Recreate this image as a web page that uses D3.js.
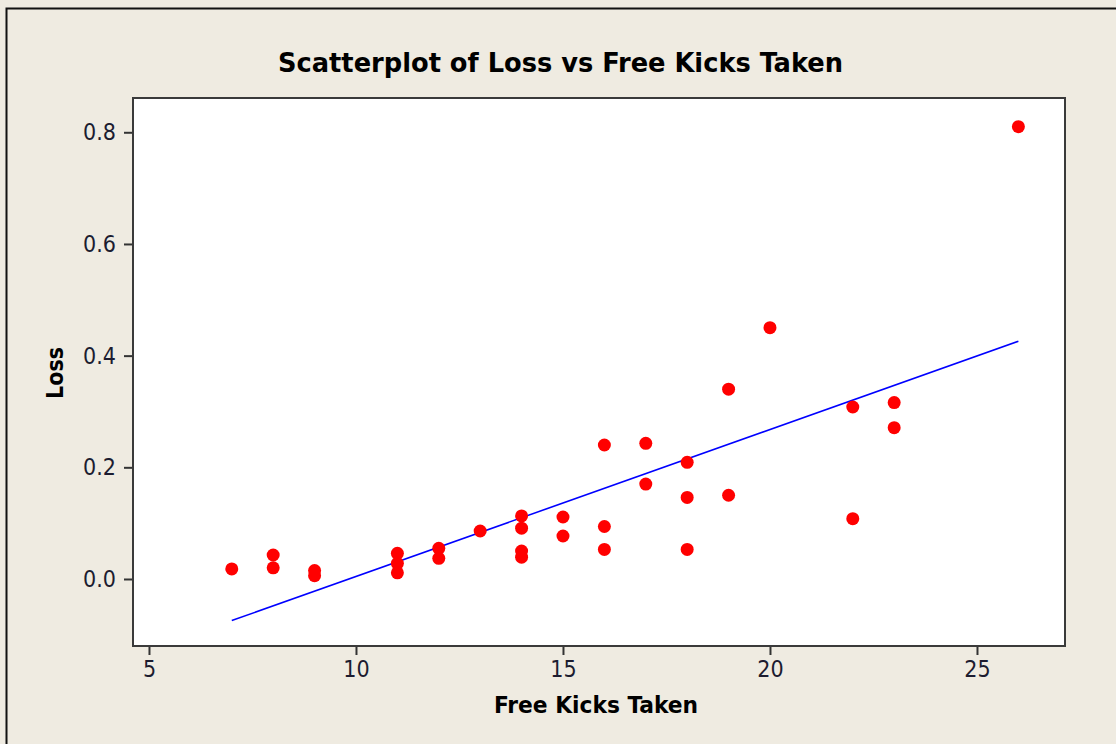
<!DOCTYPE html>
<html>
<head>
<meta charset="utf-8">
<script src="https://cdn.jsdelivr.net/npm/d3@7"></script>
<style>
  html, body { margin: 0; padding: 0; background: #efebe1; overflow: hidden; }
  svg { display: block; }
</style>
</head>
<body>
<div id="chart"></div>
<script>
// Data
const freeKicks = [7, 8, 8, 9, 9, 11, 11, 11, 12, 12, 13, 14, 14, 14, 14, 15, 15,
  16, 16, 16, 17, 17, 18, 18, 18, 19, 19, 20, 22, 22, 23, 23, 26];
const loss = [0.018, 0.043, 0.020, 0.015, 0.006, 0.046, 0.028, 0.011, 0.055, 0.037,
  0.086, 0.113, 0.091, 0.050, 0.039, 0.111, 0.077, 0.240, 0.094, 0.053, 0.243, 0.170,
  0.209, 0.146, 0.053, 0.340, 0.150, 0.450, 0.308, 0.108, 0.316, 0.271, 0.810];
const xTicks = [5, 10, 15, 20, 25];
const yTicks = [0.0, 0.2, 0.4, 0.6, 0.8];

const chartTitle = "Scatterplot of Loss vs Free Kicks Taken";
const xLabel = "Free Kicks Taken";
const yLabel = "Loss";

function createScatter(containerId) {
  const config = {
    width: 1116,
    height: 744,
    plot: { left: 133, top: 98, right: 1065, bottom: 646 },
    xDomain: [4.614, 27.126],
    yDomain: [-0.12, 0.8614],
    pointRadius: 6.5,
    font: "'DejaVu Sans Condensed', 'DejaVu Sans', sans-serif"
  };

  const data = freeKicks.map((x, i) => ({ x: x, y: loss[i] }));

  const svg = d3.select("#" + containerId).append("svg")
    .attr("width", config.width)
    .attr("height", config.height);

  // Outer window frame
  svg.append("rect")
    .attr("x", 6.5).attr("y", 8.5)
    .attr("width", config.width + 20).attr("height", config.height + 20)
    .attr("fill", "#efebe1")
    .attr("stroke", "#111")
    .attr("stroke-width", 2);

  const p = config.plot;
  const x = d3.scaleLinear().domain(config.xDomain).range([p.left, p.right]);
  const y = d3.scaleLinear().domain(config.yDomain).range([p.bottom, p.top]);

  // Plot area
  svg.append("rect")
    .attr("x", p.left).attr("y", p.top)
    .attr("width", p.right - p.left).attr("height", p.bottom - p.top)
    .attr("fill", "#fff")
    .attr("stroke", "#3a3a3a")
    .attr("stroke-width", 2);

  // Axes
  const xAxis = d3.axisBottom(x).tickValues(xTicks).tickSize(8).tickPadding(6)
    .tickFormat(d3.format("d"));
  const yAxis = d3.axisLeft(y).tickValues(yTicks).tickSize(8).tickPadding(8)
    .tickFormat(d3.format(".1f"));

  const gx = svg.append("g").attr("transform", `translate(0,${p.bottom + 1})`).call(xAxis);
  const gy = svg.append("g").attr("transform", `translate(${p.left - 1},0)`).call(yAxis);

  [gx, gy].forEach(g => {
    g.select(".domain").remove();
    g.selectAll(".tick line").attr("stroke", "#333").attr("stroke-width", 2);
    g.selectAll(".tick text")
      .attr("fill", "#1c1c30")
      .style("font-family", config.font)
      .style("font-size", "23px");
  });

  // Fitted line (least squares from the points)
  const mx = d3.mean(freeKicks), my = d3.mean(loss);
  const sxy = d3.sum(data, d => (d.x - mx) * (d.y - my));
  const sxx = d3.sum(data, d => (d.x - mx) * (d.x - mx));
  const slope = sxy / sxx;
  const intercept = my - slope * mx;
  const xExtent = d3.extent(freeKicks);

  svg.append("line")
    .attr("x1", x(xExtent[0])).attr("y1", y(intercept + slope * xExtent[0]))
    .attr("x2", x(xExtent[1])).attr("y2", y(intercept + slope * xExtent[1]))
    .attr("stroke", "#0000ff")
    .attr("stroke-width", 1.6);

  // Points
  svg.append("g").selectAll("circle")
    .data(data)
    .enter()
    .append("circle")
    .attr("cx", d => x(d.x))
    .attr("cy", d => y(d.y))
    .attr("r", config.pointRadius)
    .attr("fill", "#ff0000");

  // Titles
  svg.append("text")
    .attr("x", 560.5).attr("y", 72)
    .attr("text-anchor", "middle")
    .attr("textLength", 565)
    .attr("lengthAdjust", "spacingAndGlyphs")
    .style("font-family", config.font)
    .style("font-weight", "bold")
    .style("font-size", "27px")
    .attr("fill", "#000")
    .text(chartTitle);

  svg.append("text")
    .attr("x", 596).attr("y", 713)
    .attr("text-anchor", "middle")
    .attr("textLength", 204)
    .attr("lengthAdjust", "spacingAndGlyphs")
    .style("font-family", config.font)
    .style("font-weight", "bold")
    .style("font-size", "23px")
    .attr("fill", "#000")
    .text(xLabel);

  svg.append("text")
    .attr("transform", "translate(63,373) rotate(-90)")
    .attr("text-anchor", "middle")
    .style("font-family", config.font)
    .style("font-weight", "bold")
    .style("font-size", "23px")
    .attr("fill", "#000")
    .text(yLabel);
}

createScatter("chart");
</script>
</body>
</html>
